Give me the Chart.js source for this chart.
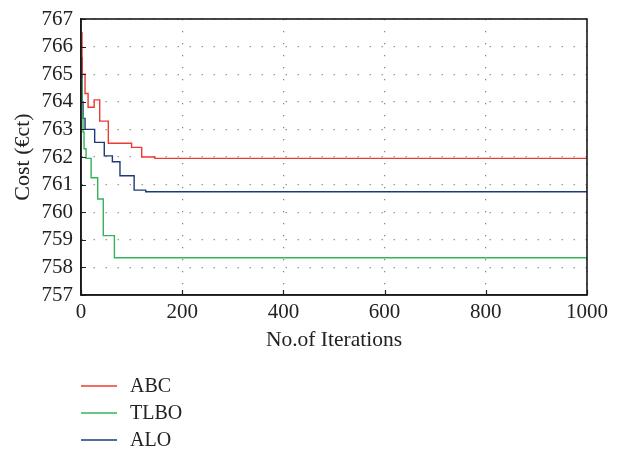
<!DOCTYPE html>
<html>
<head>
<meta charset="utf-8">
<script src="https://cdn.jsdelivr.net/npm/chart.js@4/dist/chart.umd.min.js"></script>
<style>
  html, body { margin: 0; padding: 0; background: #fff; }
  #wrap { position: relative; width: 623px; height: 449px; }
</style>
</head>
<body>
<div id="wrap"><canvas id="c" width="623" height="449"></canvas></div>
<script>
// ---- Data ----
const seriesNames = ['ABC', 'TLBO', 'ALO'];
const abcIter  = [0, 2, 8, 14, 26, 37, 54, 100, 120, 146, 1000];
const abcCost  = [766.5, 765.0, 764.3, 763.8, 764.07, 763.3, 762.5, 762.35, 762.0, 761.95, 761.95];
const tlboIter = [0, 2, 4, 6, 10, 20, 33, 44, 66, 1000];
const tlboCost = [764.8, 763.5, 762.9, 762.3, 761.95, 761.25, 760.48, 759.15, 758.35, 758.35];
const aloIter  = [0, 2, 4, 8, 27, 46, 62, 77, 105, 128, 1000];
const aloCost  = [765.6, 764.0, 763.4, 763.0, 762.53, 762.04, 761.83, 761.32, 760.8, 760.74, 760.74];
const xTicks = [0, 200, 400, 600, 800, 1000];
const yTicks = [757, 758, 759, 760, 761, 762, 763, 764, 765, 766, 767];
const xTitle = 'No.of Iterations';
const yTitle = 'Cost (€ct)';

const colors = ['#ee3b2f', '#33b35a', '#1d3a78'];
const FONT = "'Liberation Serif', 'DejaVu Serif', serif";

function pts(xs, ys) { return xs.map((x, i) => ({ x: x, y: ys[i] })); }

const datasets = [
  { label: seriesNames[0], data: pts(abcIter, abcCost) },
  { label: seriesNames[1], data: pts(tlboIter, tlboCost) },
  { label: seriesNames[2], data: pts(aloIter, aloCost) }
].map((d, i) => Object.assign(d, {
  borderColor: colors[i], backgroundColor: colors[i], borderWidth: 1.4,
  pointRadius: 0, stepped: 'before', fill: false, tension: 0
}));

const framePlugin = {
  id: 'frame',
  afterDatasetsDraw(chart) {
    const { ctx, chartArea: a, scales } = chart;
    ctx.save();
    // inward tick marks
    ctx.strokeStyle = '#222';
    ctx.lineWidth = 1.2;
    ctx.beginPath();
    yTicks.forEach(v => {
      const y = Math.round(scales.y.getPixelForValue(v)) + 0.5;
      ctx.moveTo(a.left, y); ctx.lineTo(a.left + 5, y);
    });
    xTicks.forEach(v => {
      const x = Math.round(scales.x.getPixelForValue(v)) + 0.5;
      ctx.moveTo(x, a.bottom); ctx.lineTo(x, a.bottom - 5);
    });
    ctx.stroke();
    // frame
    ctx.strokeStyle = '#1a1a1a';
    ctx.lineWidth = 1.6;
    ctx.strokeRect(a.left, a.top, a.right - a.left, a.bottom - a.top);
    // legend
    ctx.font = '20px ' + FONT;
    ctx.fillStyle = '#222';
    ctx.textBaseline = 'middle';
    const ly = [386, 413, 440];
    seriesNames.forEach((n, i) => {
      ctx.strokeStyle = colors[i];
      ctx.lineWidth = 1.6;
      ctx.beginPath();
      ctx.moveTo(a.left, ly[i]); ctx.lineTo(a.left + 36, ly[i]);
      ctx.stroke();
      ctx.fillText(n, a.left + 49, ly[i] + 1);
    });
    ctx.restore();
  }
};

new Chart(document.getElementById('c'), {
  type: 'line',
  data: { datasets },
  options: {
    responsive: false,
    animation: false,
    layout: { padding: { left: 0, top: 19, right: 36, bottom: 94 } },
    plugins: { legend: { display: false }, tooltip: { enabled: false } },
    scales: {
      x: {
        type: 'linear', min: 0, max: 1000,
        afterFit: s => { s.height = 60; },
        afterBuildTicks: s => { s.ticks = xTicks.map(v => ({ value: v })); },
        ticks: { color: '#222', font: { family: FONT, size: 21 }, padding: 5, maxRotation: 0,
                 autoSkip: false, callback: v => String(v) },
        grid: { color: '#808080', lineWidth: 1.2, drawTicks: false },
        border: { display: true, color: '#1a1a1a', width: 1.6, dash: [1.2, 10.8] },
        title: { display: true, text: xTitle, color: '#222', font: { family: FONT, size: 21.5 }, padding: { top: 0, bottom: 2 } }
      },
      y: {
        type: 'linear', min: 757, max: 767,
        afterFit: s => { s.width = 81; },
        afterBuildTicks: s => { s.ticks = yTicks.map(v => ({ value: v })); },
        ticks: { color: '#222', font: { family: FONT, size: 21, lineHeight: 1 }, padding: 8,
                 autoSkip: false, callback: v => String(v) },
        grid: { color: '#808080', lineWidth: 1.2, drawTicks: false },
        border: { display: true, color: '#1a1a1a', width: 1.6, dash: [1.2, 10.8] },
        title: { display: true, text: yTitle, color: '#222', font: { family: FONT, size: 22 }, padding: { top: 10, bottom: 0 } }
      }
    }
  },
  plugins: [framePlugin]
});
</script>
</body>
</html>
